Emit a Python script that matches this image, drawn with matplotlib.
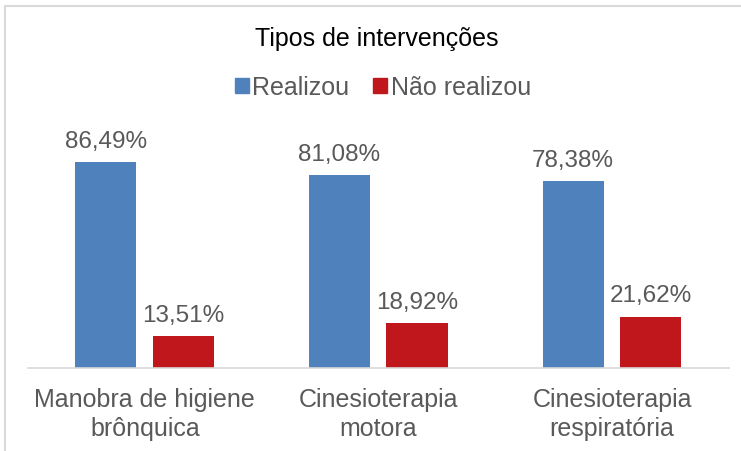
import matplotlib.pyplot as plt
from matplotlib.patches import Rectangle, Patch
import numpy as np

plt.rcParams['font.family'] = ['Liberation Sans', 'DejaVu Sans']

categorias = ['Manobra de higiene\nbrônquica', 'Cinesioterapia\nmotora', 'Cinesioterapia\nrespiratória']
realizou = [86.49, 81.08, 78.38]
nao_realizou = [13.51, 18.92, 21.62]
rotulos_realizou = ['86,49%', '81,08%', '78,38%']
rotulos_nao = ['13,51%', '18,92%', '21,62%']

azul = '#4F81BD'
vermelho = '#C0171C'
cinza = '#595959'

fig = plt.figure(figsize=(7.41, 4.52), dpi=100)
W, H = 741, 452
ax = fig.add_axes([28 / W, (H - 369) / H, 701 / W, 238 / H])

x = np.arange(len(categorias))
largura = 0.262
b1 = ax.bar(x - 0.167, realizou, largura, color=azul)
b2 = ax.bar(x + 0.165, nao_realizou, largura, color=vermelho)

for barras, rotulos in ((b1, rotulos_realizou), (b2, rotulos_nao)):
    for b, r in zip(barras, rotulos):
        ax.annotate(r, (b.get_x() + b.get_width() / 2, b.get_height()),
                    xytext=(0, 11), textcoords='offset points',
                    ha='center', va='baseline', fontsize=17.5, color=cinza,
                    annotation_clip=False)

ax.set_xlim(-0.5, 2.5)
ax.set_ylim(0, 100)
ax.set_xticks(x)
ax.set_xticklabels(categorias, fontsize=18, color=cinza, linespacing=1.25)
ax.tick_params(axis='x', length=0, pad=14)
ax.set_yticks([])
for s in ['top', 'right', 'left']:
    ax.spines[s].set_visible(False)
ax.spines['bottom'].set_color('#D9D9D9')
ax.spines['bottom'].set_linewidth(1.2)

# Titulo e legenda
fig.text(377 / W, 1 - 39 / H, 'Tipos de intervenções', ha='center', va='center',
         fontsize=18, color='black')
handles = [Patch(color=azul, label='Realizou'), Patch(color=vermelho, label='Não realizou')]
fig.legend(handles=handles, loc='center', bbox_to_anchor=(383 / W, 1 - 88 / H),
           ncol=2, frameon=False, fontsize=18, labelcolor=cinza,
           handlelength=0.55, handleheight=0.55, handletextpad=0.15,
           columnspacing=0.95)

# Moldura do grafico
fig.patches.append(Rectangle((5 / W, -0.05), 1.1, 1 - 7 / H + 0.05,
                             transform=fig.transFigure, fill=False,
                             edgecolor='#D9D9D9', linewidth=1.5))

fig.savefig('out.png', dpi=100)
